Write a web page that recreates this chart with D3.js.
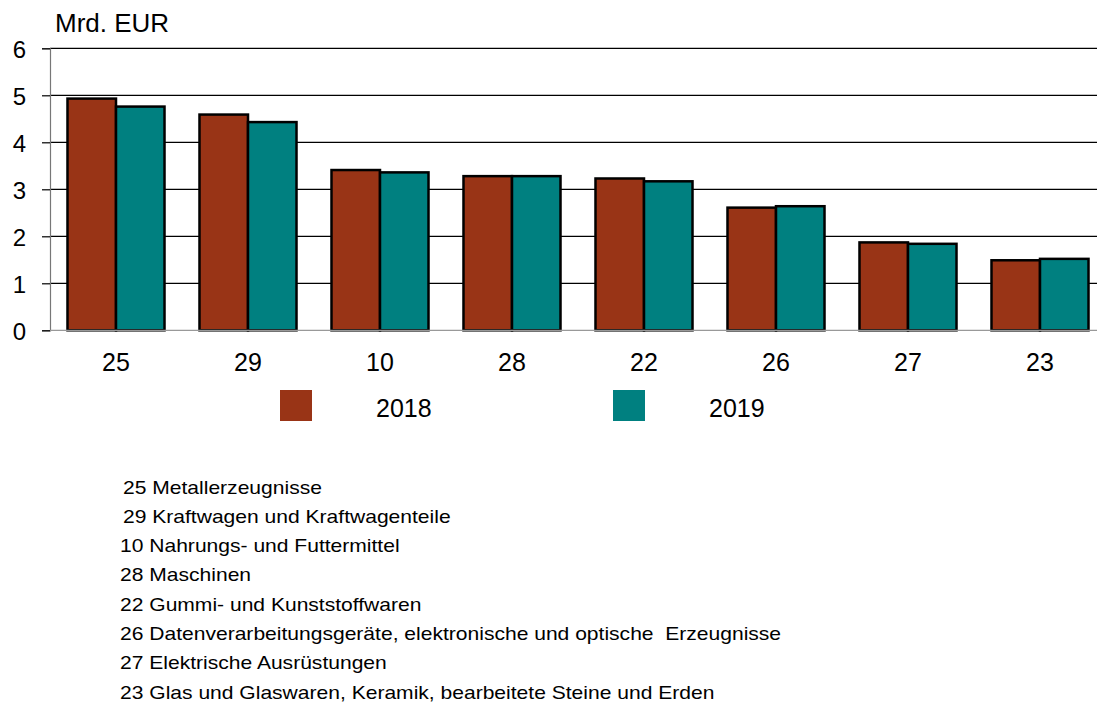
<!DOCTYPE html>
<html><head><meta charset="utf-8">
<script src="https://cdn.jsdelivr.net/npm/d3@7"></script>
<style>body{margin:0;background:#fff;} svg{display:block;font-family:"Liberation Sans",Arial,sans-serif;}</style>
</head><body>
<svg id="chart" width="1097" height="707"></svg>
<script>
const categories = ["25","29","10","28","22","26","27","23"];
const seriesNames = ["2018","2019"];
const values2018 = [4.93,4.59,3.41,3.28,3.23,2.61,1.87,1.49];
const values2019 = [4.76,4.43,3.36,3.28,3.17,2.64,1.84,1.52];
const yTicks = [0,1,2,3,4,5,6];
const notes = [
 "25 Metallerzeugnisse",
 "29 Kraftwagen und Kraftwagenteile",
 "10 Nahrungs- und Futtermittel",
 "28 Maschinen",
 "22 Gummi- und Kunststoffwaren",
 "26 Datenverarbeitungsgeräte, elektronische und optische  Erzeugnisse",
 "27 Elektrische Ausrüstungen",
 "23 Glas und Glaswaren, Keramik, bearbeitete Steine und Erden"
];
const colors = ["#993416","#008080"];

const svg = d3.select("#chart");
const mLeft = 50, mRight = 1097, mTop = 48.3, mBottom = 330.3;
const y = d3.scaleLinear().domain([0,6]).range([mBottom, mTop]);
const x0 = d3.scaleBand().domain(categories).range([mLeft, mLeft + 132*8]).paddingInner(0.265).paddingOuter(0.1325);
const x1 = d3.scaleBand().domain(seriesNames).range([0, x0.bandwidth()]);

// gridlines
svg.append("g").selectAll("line").data(yTicks.filter(d=>d>0)).join("line")
  .attr("x1", mLeft).attr("x2", mRight).attr("y1", d=>y(d)).attr("y2", d=>y(d))
  .attr("stroke", "#000").attr("stroke-width", 1.2);

// y axis
const yAxis = svg.append("g").attr("transform", `translate(${mLeft},0)`)
  .call(d3.axisLeft(y).tickValues(yTicks).tickSize(8).tickPadding(16).tickFormat(d3.format("d")));
yAxis.select(".domain").attr("stroke", "#777").attr("stroke-width", 1.2);
yAxis.selectAll(".tick line").attr("stroke", "#000").attr("stroke-width", 1.2);
yAxis.selectAll("text").attr("font-size", 24).attr("fill", "#000").attr("font-family", "Liberation Sans, Arial, sans-serif").attr("dy", "0.38em");

// bars
const data = categories.map((c,i)=>({cat:c, vals:[{s:"2018",v:values2018[i]},{s:"2019",v:values2019[i]}]}));
const g = svg.append("g").selectAll("g").data(data).join("g").attr("transform", d=>`translate(${x0(d.cat)},0)`);
g.selectAll("rect").data(d=>d.vals).join("rect")
  .attr("x", d=>x1(d.s)).attr("width", x1.bandwidth())
  .attr("y", d=>y(d.v)).attr("height", d=>y(0)-y(d.v))
  .attr("fill", (d,i)=>colors[i]).attr("stroke", "#000").attr("stroke-width", 2.5);

// x axis baseline
svg.append("line").attr("x1", mLeft).attr("x2", mRight).attr("y1", y(0)).attr("y2", y(0)).attr("stroke", "#999").attr("stroke-width", 1.2);

// x labels
const xAxis = svg.append("g").attr("transform", `translate(0,${y(0)})`)
  .call(d3.axisBottom(x0).tickSize(0).tickPadding(23));
xAxis.select(".domain").remove();
xAxis.selectAll("text").attr("font-size", 25).attr("fill", "#000").attr("font-family", "Liberation Sans, Arial, sans-serif");

// title
svg.append("text").attr("x", 55).attr("y", 32.3).attr("font-size", 26).text("Mrd. EUR");

// legend
const legX = [280, 613];
const leg = svg.append("g").selectAll("g").data(seriesNames).join("g").attr("transform", (d,i)=>`translate(${legX[i]},390)`);
leg.append("rect").attr("width", 32).attr("height", 31).attr("fill", (d,i)=>colors[i]);
leg.append("text").attr("x", 96).attr("y", 26.7).attr("font-size", 25).text(d=>d);

// notes
const noteY = d3.scaleLinear().domain([0, notes.length-1]).range([493.5, 698.5]);
svg.append("g").selectAll("text").data(notes).join("text")
  .attr("transform", (d,i)=>`translate(${i<2 ? 123 : 120},${noteY(i)}) scale(1.17,1)`)
  .attr("font-size", 18).style("white-space", "pre")
  .text(d=>d);
</script>
</body></html>
